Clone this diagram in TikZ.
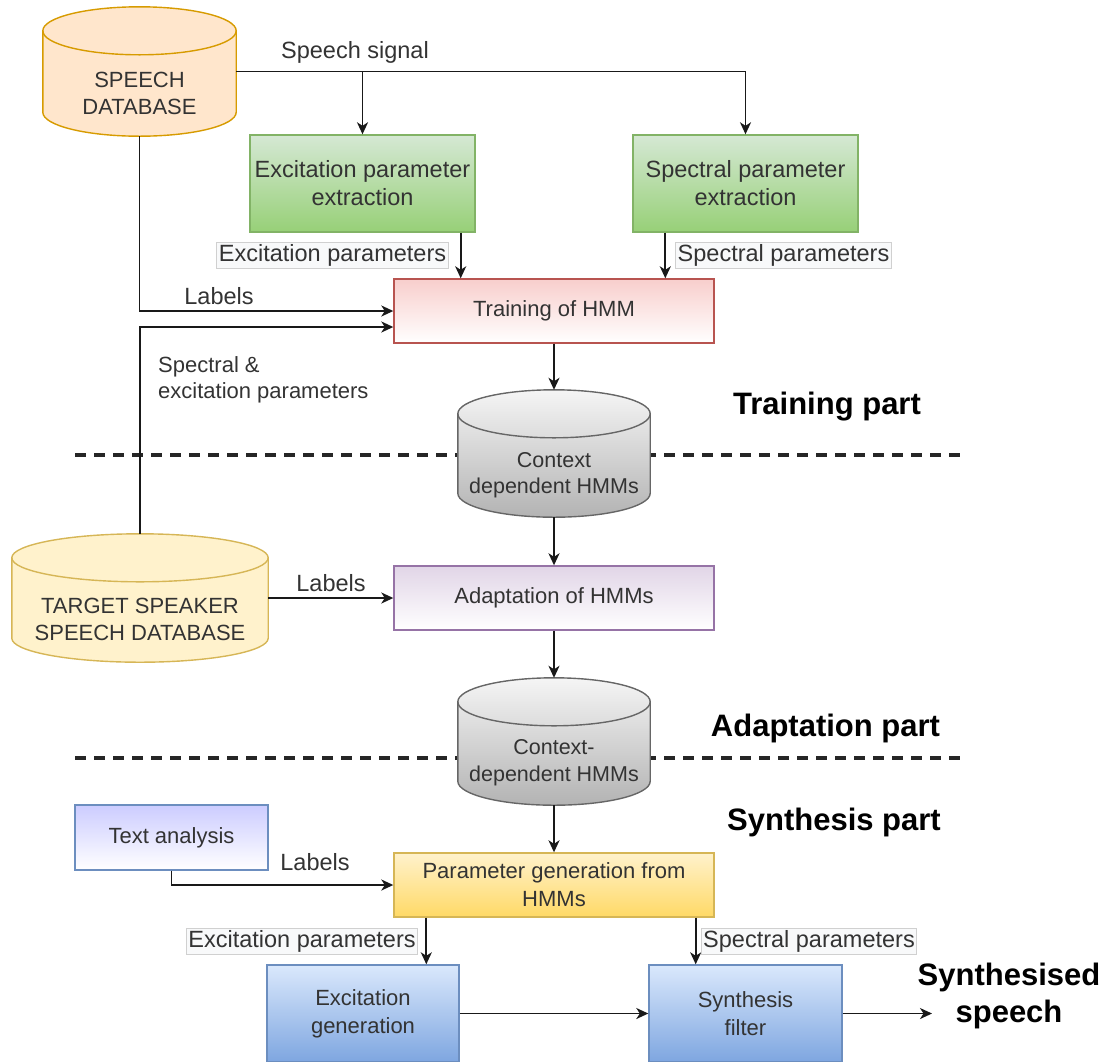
\documentclass[tikz,border=0pt]{standalone}
\usepackage{fontspec}
\setmainfont{Liberation Sans}
\usetikzlibrary{arrows.meta,calc}

\definecolor{txt}{HTML}{333333}
\definecolor{grtop}{HTML}{D5E8D4}\definecolor{grbot}{HTML}{97D077}\definecolor{grline}{HTML}{82B366}
\definecolor{rdtop}{HTML}{F8CECC}\definecolor{rdline}{HTML}{B85450}
\definecolor{pptop}{HTML}{E1D5E7}\definecolor{ppline}{HTML}{9673A6}
\definecolor{lvtop}{HTML}{CCCCFF}
\definecolor{yltop}{HTML}{FFF2CC}\definecolor{ylbot}{HTML}{FFD966}\definecolor{ylline}{HTML}{D6B656}
\definecolor{bltop}{HTML}{DAE8FC}\definecolor{blbot}{HTML}{7EA6E0}\definecolor{blline}{HTML}{6C8EBF}
\definecolor{gytop}{HTML}{F5F5F5}\definecolor{gybot}{HTML}{B3B3B3}\definecolor{gyline}{HTML}{666666}
\definecolor{orfill}{HTML}{FFE6CC}\definecolor{orline}{HTML}{D79B00}
\definecolor{lbfill}{HTML}{F8F9FA}\definecolor{lbline}{HTML}{D0D0D0}

\newcommand\fs[2]{\fontsize{#1}{#2}\selectfont}

% database cylinder drawn around an invisible node:
% #1 node, #2 half-height of the end ellipse, #3 body fill, #4 outline colour
\newcommand\dbshape[4]{%
  \path[#3, draw=#4, line width=1.4pt]
    let \p1=(#1.north west), \p2=(#1.south east), \n1={(\x2-\x1)/2} in
    (\x1,\y1-#2) -- (\x1,\y2+#2)
    arc[start angle=180, end angle=360, x radius=\n1, y radius=#2]
    -- (\x2,\y1-#2)
    arc[start angle=0, end angle=180, x radius=\n1, y radius=#2] -- cycle;
  \draw[#4, line width=1.4pt]
    let \p1=(#1.north west), \p2=(#1.south east), \n1={(\x2-\x1)/2} in
    (\x1,\y1-#2) arc[start angle=180, end angle=360, x radius=\n1, y radius=#2];
}

\tikzset{
  every node/.style={inner sep=0pt, text=txt},
  dbarea/.style={rectangle, draw=none},
  dbtext/.style={align=center, font=\fs{22}{27}},
  box/.style={rectangle, line width=1.4pt, align=center, font=\fs{22}{28}},
  greenbox/.style={box, draw=grline, top color=grtop, bottom color=grbot, font=\fs{23.5}{28}},
  redbox/.style={box, draw=rdline, top color=rdtop, bottom color=white},
  purplebox/.style={box, draw=ppline, top color=pptop, bottom color=white},
  lavbox/.style={box, draw=blline, top color=lvtop, bottom color=white},
  yellowbox/.style={box, draw=ylline, top color=yltop, bottom color=ylbot},
  bluebox/.style={box, draw=blline, top color=bltop, bottom color=blbot},
  lbox/.style={rectangle, draw=lbline, fill=lbfill, line width=0.9pt, inner xsep=2pt,
    minimum height=26pt, font=\fs{23.5}{28}},
  lbl/.style={font=\fs{23.5}{28}},
  part/.style={text=black, font=\fs{31}{37}\bfseries, align=center},
  arr/.style={line width=1.8pt, draw=black!90, -{Stealth[length=12pt, width=11pt, inset=3.5pt]}},
  sepline/.style={line width=3.2pt, draw=black!85, dash pattern=on 11pt off 8pt},
}

\begin{document}
\begin{tikzpicture}[x=1pt,y=1pt]
\useasboundingbox (0,0) rectangle (1107,-1061);

% section separators
\coordinate (s1a) at (75,-455);  \coordinate (s1b) at (967,-455);
\coordinate (s2a) at (75,-758);  \coordinate (s2b) at (967,-758);
\draw[sepline] (s1a) -- (s1b);
\draw[sepline] (s2a) -- (s2b);

% databases
\node[dbarea, minimum width=193pt, minimum height=129pt] (sdb)  at (139.5,-71.5) {};
\node[dbarea, minimum width=256pt, minimum height=128pt] (tsd)  at (140,-598) {};
\node[dbarea, minimum width=192pt, minimum height=127pt] (cdh1) at (554,-453.5) {};
\node[dbarea, minimum width=192pt, minimum height=127pt] (cdh2) at (554,-741.5) {};

\dbshape{sdb}{24pt}{fill=orfill}{orline}
\dbshape{tsd}{24pt}{fill=yltop}{ylline}
\dbshape{cdh1}{24pt}{top color=gytop, bottom color=gybot}{gyline}
\dbshape{cdh2}{24pt}{top color=gytop, bottom color=gybot}{gyline}

\node[dbtext] (sdbt)  at (139.5,-93.5) {SPEECH\\DATABASE};
\node[dbtext] (tsdt)  at (140,-619.5) {TARGET SPEAKER\\SPEECH DATABASE};
\node[dbtext, font=\fs{21.5}{26}] (cdh1t) at (554,-475.5) {Context\\dependent HMMs};
\node[dbtext, font=\fs{21.5}{27}] (cdh2t) at (554,-763) {Context-\\dependent HMMs};

% processing blocks
\node[greenbox, minimum width=225pt, minimum height=97pt] (exc) at (362.5,-183.5) {Excitation parameter\\extraction};
\node[greenbox, minimum width=225pt, minimum height=97pt] (spe) at (745.5,-183.5) {Spectral parameter\\extraction};
\node[redbox, minimum width=320pt, minimum height=64pt] (trn) at (554,-311) {Training of HMM};
\node[purplebox, minimum width=320pt, minimum height=64pt] (ada) at (554,-598) {Adaptation of HMMs};
\node[lavbox, minimum width=193pt, minimum height=65pt] (txa) at (171.5,-837.5) {Text analysis};
\node[yellowbox, minimum width=320pt, minimum height=64pt] (pg) at (554,-885) {Parameter generation from\\HMMs};
\node[bluebox, minimum width=192pt, minimum height=97pt] (exg) at (363,-1013.5) {Excitation\\generation};
\node[bluebox, minimum width=193pt, minimum height=97pt] (sfl) at (745.5,-1013.5) {Synthesis\\filter};

% connectors
\draw[arr] (sdb.east) -| (spe.north);
\draw[arr] (sdb.east -| exc.north) -- (exc.north);
\draw[arr] ([xshift=-15pt]exc.south east) -- ([xshift=-15pt]exc.south east |- trn.north);
\draw[arr] ([xshift=33pt]spe.south west) -- ([xshift=33pt]spe.south west |- trn.north);
\draw[arr] (sdb.south) |- (trn.west);
\draw[arr] (tsd.north) |- ([yshift=-16pt]trn.west);
\draw[arr] (trn.south) -- (cdh1.north);
\draw[arr] (cdh1.south) -- (ada.north);
\draw[arr] (tsd.east) -- (ada.west);
\draw[arr] (ada.south) -- (cdh2.north);
\draw[arr] (cdh2.south) -- (pg.north);
\draw[arr] (txa.south) |- (pg.west);
\draw[arr] ([xshift=33pt]pg.south west) -- ([xshift=33pt]pg.south west |- exg.north);
\draw[arr] ([xshift=-19pt]pg.south east) -- ([xshift=-19pt]pg.south east |- sfl.north);
\draw[arr] (exg.east) -- (sfl.west);
\coordinate (outp) at (932,-1013.5);
\draw[arr] (sfl.east) -- (outp);

% connector labels
\node[lbl] (lsig) at (355,-52) {Speech signal};
\node[lbox] (lexp1) at (332.5,-255) {Excitation parameters};
\node[lbox] (lspp1) at (783.5,-255) {Spectral parameters};
\node[lbl] (llab1) at (219,-296) {Labels};
\node[lbl, font=\fs{22}{26}, align=left, anchor=west] (lsex) at (158,-380) {Spectral \&\\excitation parameters};
\node[lbl] (llab2) at (331,-583) {Labels};
\node[lbl] (llab3) at (315,-862) {Labels};
\node[lbox] (lexp2) at (302,-941) {Excitation parameters};
\node[lbox] (lspp2) at (809,-941) {Spectral parameters};

% section titles
\node[part] (ptrn) at (827,-407) {Training part};
\node[part] (pada) at (825.5,-728) {Adaptation part};
\node[part] (psyn) at (834,-822) {Synthesis part};
\node[part] (pout) at (1009,-996) {Synthesised\\speech};
\end{tikzpicture}
\end{document}
